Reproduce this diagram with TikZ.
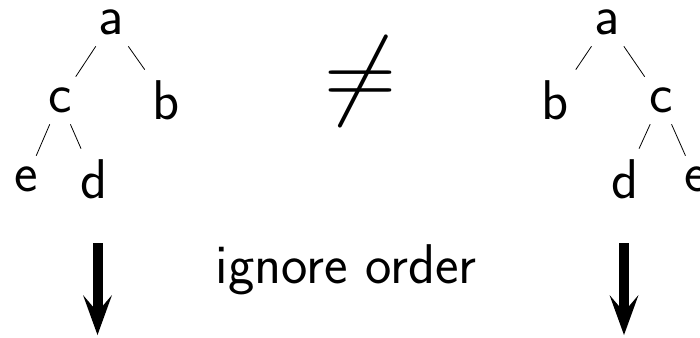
\RequirePackage{fix-cm}
\documentclass[tikz,border=0pt]{standalone}
\usetikzlibrary{arrows.meta}
\begin{document}
\begin{tikzpicture}[x=1pt,y=1pt,
  lbl/.style={font=\fontsize{56}{60}\selectfont\sffamily, inner sep=11pt},
  treeedge/.style={line width=0.8pt},
  bigarrow/.style={line width=10pt,
    -{Stealth[length=40pt,width=29pt,inset=17pt,line width=0pt]}}]
\clip (0,0) rectangle (700,-337);
% left tree
\node[lbl] (la) at (111.5,-22.5) {a};
\node[lbl] (lc) at (60,-100.5) {c};
\node[lbl] (lb) at (166.5,-100.5) {b};
\node[lbl] (le) at (26,-179.5) {e};
\node[lbl] (ld) at (94.5,-179.5) {d};
\draw[treeedge] (la) -- (lc);
\draw[treeedge] (la) -- (lb);
\draw[treeedge] (lc) -- (le);
\draw[treeedge] (lc) -- (ld);
% right tree
\node[lbl] (ra) at (607.5,-22.5) {a};
\node[lbl] (rb) at (555,-100.5) {b};
\node[lbl] (rc) at (661,-100.5) {c};
\node[lbl] (rd) at (625,-179.5) {d};
\node[lbl] (re) at (696,-179.5) {e};
\draw[treeedge] (ra) -- (rb);
\draw[treeedge] (ra) -- (rc);
\draw[treeedge] (rc) -- (rd);
\draw[treeedge] (rc) -- (re);
% not equal
\node[anchor=base, inner sep=0pt, font=\fontsize{100}{110}\selectfont] (neq) at (360.5,-106) {$\neq$};
% ignore order
\node[lbl, anchor=base, inner sep=0pt] (ign) at (346,-283) {ignore order};
% arrows
\coordinate (l1) at (97.5,-243);
\coordinate (l2) at (97.5,-335);
\coordinate (r1) at (624,-243);
\coordinate (r2) at (624,-335);
\draw[bigarrow] (l1) -- (l2);
\draw[bigarrow] (r1) -- (r2);
\end{tikzpicture}
\end{document}
